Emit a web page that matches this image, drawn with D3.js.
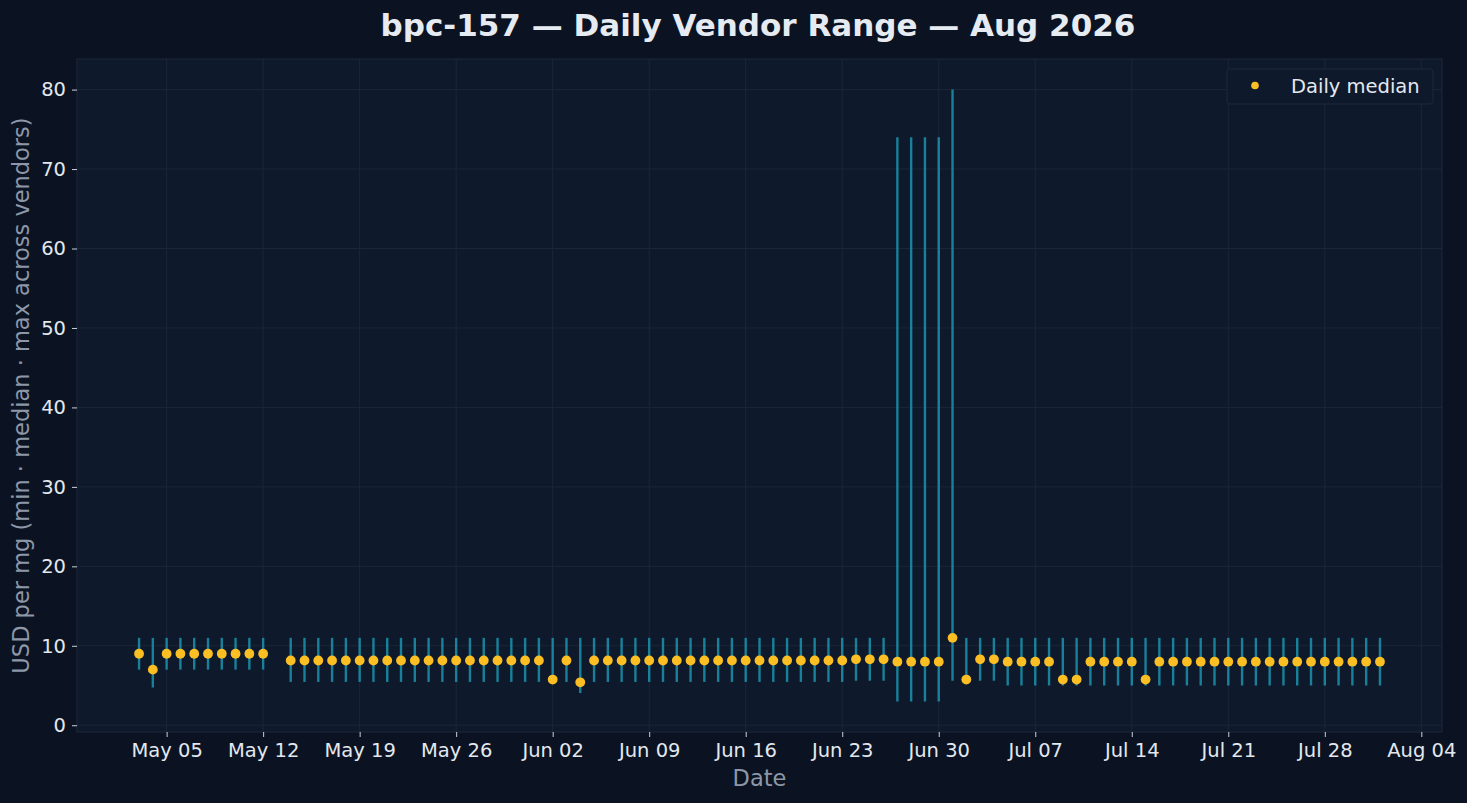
<!DOCTYPE html>
<html>
<head>
<meta charset="utf-8">
<script src="https://cdn.jsdelivr.net/npm/d3@7"></script>
<style>
  html, body { margin: 0; padding: 0; background: #0b1322; }
  svg { display: block; font-family: "DejaVu Sans", sans-serif; }
</style>
</head>
<body>
<div id="chart"></div>
<script>
(function() {
    var width = 1467;
    var height = 803;

    // Daily vendor range
    var dates = [
        "2026-05-03","2026-05-04","2026-05-05","2026-05-06","2026-05-07","2026-05-08","2026-05-09","2026-05-10","2026-05-11","2026-05-12",
        "2026-05-14","2026-05-15","2026-05-16","2026-05-17","2026-05-18","2026-05-19","2026-05-20","2026-05-21","2026-05-22","2026-05-23",
        "2026-05-24","2026-05-25","2026-05-26","2026-05-27","2026-05-28","2026-05-29","2026-05-30","2026-05-31",
        "2026-06-01","2026-06-02","2026-06-03","2026-06-04","2026-06-05","2026-06-06","2026-06-07","2026-06-08","2026-06-09","2026-06-10",
        "2026-06-11","2026-06-12","2026-06-13","2026-06-14","2026-06-15","2026-06-16","2026-06-17","2026-06-18","2026-06-19","2026-06-20",
        "2026-06-21","2026-06-22","2026-06-23","2026-06-24","2026-06-25","2026-06-26","2026-06-27","2026-06-28","2026-06-29","2026-06-30",
        "2026-07-01","2026-07-02","2026-07-03","2026-07-04","2026-07-05","2026-07-06","2026-07-07","2026-07-08","2026-07-09","2026-07-10",
        "2026-07-11","2026-07-12","2026-07-13","2026-07-14","2026-07-15","2026-07-16","2026-07-17","2026-07-18","2026-07-19","2026-07-20",
        "2026-07-21","2026-07-22","2026-07-23","2026-07-24","2026-07-25","2026-07-26","2026-07-27","2026-07-28","2026-07-29","2026-07-30",
        "2026-07-31","2026-08-01"
    ];
    var mins = [
        // May
        7, 4.75, 7, 7, 7, 7, 7, 7, 7, 7,
        5.45, 5.45, 5.45, 5.45, 5.45, 5.45, 5.45, 5.45, 5.45, 5.45, 5.45, 5.45, 5.45, 5.45, 5.45, 5.45, 5.45, 5.45,
        // Jun
        5.45, 5.45, 5.45, 4.05, 5.45, 5.45, 5.45, 5.45, 5.45, 5.45, 5.45, 5.45, 5.45, 5.45, 5.45, 5.45, 5.45, 5.45,
        5.45, 5.45, 5.45, 5.45, 5.45, 5.6, 5.6, 5.6, 3, 3, 3, 3,
        // Jul
        5.6, 5.6, 5.6, 5.6, 5, 5, 5, 5, 5, 5, 5, 5, 5, 5, 5, 5, 5, 5, 5, 5, 5, 5, 5, 5, 5, 5, 5, 5, 5, 5, 5,
        // Aug
        5
    ];
    var medians = [
        9, 7, 9, 9, 9, 9, 9, 9, 9, 9,
        8.15, 8.15, 8.15, 8.15, 8.15, 8.15, 8.15, 8.15, 8.15, 8.15, 8.15, 8.15, 8.15, 8.15, 8.15, 8.15, 8.15, 8.15,
        8.15, 5.75, 8.15, 5.4, 8.15, 8.15, 8.15, 8.15, 8.15, 8.15, 8.15, 8.15, 8.15, 8.15, 8.15, 8.15, 8.15, 8.15,
        8.15, 8.15, 8.15, 8.15, 8.15, 8.3, 8.3, 8.3, 8, 8, 8, 8,
        11, 5.75, 8.3, 8.3, 8, 8, 8, 8, 5.75, 5.75, 8, 8, 8, 8, 5.75, 8, 8, 8, 8, 8, 8, 8, 8, 8, 8, 8, 8, 8, 8, 8, 8,
        8
    ];
    var maxs = [
        11, 11, 11, 11, 11, 11, 11, 11, 11, 11,
        11, 11, 11, 11, 11, 11, 11, 11, 11, 11, 11, 11, 11, 11, 11, 11, 11, 11,
        11, 11, 11, 11, 11, 11, 11, 11, 11, 11, 11, 11, 11, 11, 11, 11, 11, 11,
        11, 11, 11, 11, 11, 11, 11, 11, 74, 74, 74, 74,
        80, 11, 11, 11, 11, 11, 11, 11, 11, 11, 11, 11, 11, 11, 11, 11, 11, 11, 11, 11, 11, 11, 11, 11, 11, 11, 11, 11, 11, 11, 11,
        11
    ];
    var xTickDates = ["2026-05-05","2026-05-12","2026-05-19","2026-05-26","2026-06-02","2026-06-09","2026-06-16",
                      "2026-06-23","2026-06-30","2026-07-07","2026-07-14","2026-07-21","2026-07-28","2026-08-04"];
    var yTicks = [0, 10, 20, 30, 40, 50, 60, 70, 80];

    var parse = d3.utcParse("%Y-%m-%d");
    var rows = dates.map(function(d, i) {
        return { date: parse(d), lo: mins[i], mid: medians[i], hi: maxs[i] };
    });

    var margin = { top: 59, right: 25, bottom: 71, left: 77 };
    var innerW = width - margin.left - margin.right;
    var innerH = height - margin.top - margin.bottom;

    // matplotlib-style 5% padding on both axes
    var xExt = d3.extent(rows, function(d) { return d.date; });
    var pad = (xExt[1] - xExt[0]) * 0.05;
    var x = d3.scaleUtc()
        .domain([new Date(+xExt[0] - pad), new Date(+xExt[1] + pad)])
        .range([0, innerW]);

    var yLo = d3.min(rows, function(d) { return d.lo; });
    var yHi = d3.max(rows, function(d) { return d.hi; });
    var yPad = (yHi - yLo) * 0.05;
    var y = d3.scaleLinear()
        .domain([yLo - yPad, yHi + yPad])
        .range([innerH, 0]);

    var svg = d3.select("#chart")
        .append("svg")
        .attr("width", width)
        .attr("height", height);

    svg.append("rect")
        .attr("width", width)
        .attr("height", height)
        .attr("fill", "#0b1322");

    var g = svg.append("g")
        .attr("transform", "translate(" + margin.left + "," + margin.top + ")");

    g.append("rect")
        .attr("width", innerW)
        .attr("height", innerH)
        .attr("fill", "#0f192c")
        .attr("stroke", "#1d283b")
        .attr("stroke-width", 1);

    // grid
    g.append("g").selectAll("line")
        .data(yTicks)
        .enter().append("line")
        .attr("x1", 0).attr("x2", innerW)
        .attr("y1", function(d) { return y(d); })
        .attr("y2", function(d) { return y(d); })
        .attr("stroke", "#1b2638")
        .attr("stroke-width", 1);

    g.append("g").selectAll("line")
        .data(xTickDates.map(parse))
        .enter().append("line")
        .attr("y1", 0).attr("y2", innerH)
        .attr("x1", function(d) { return x(d); })
        .attr("x2", function(d) { return x(d); })
        .attr("stroke", "#1b2638")
        .attr("stroke-width", 1);

    // axes
    var xAxis = d3.axisBottom(x)
        .tickValues(xTickDates.map(parse))
        .tickFormat(d3.utcFormat("%b %d"))
        .tickSize(5)
        .tickPadding(6);

    var yAxis = d3.axisLeft(y)
        .tickValues(yTicks)
        .tickSize(5)
        .tickPadding(6);

    var gx = g.append("g")
        .attr("transform", "translate(0," + innerH + ")")
        .call(xAxis);
    var gy = g.append("g").call(yAxis);

    [gx, gy].forEach(function(ax) {
        ax.select(".domain").remove();
        ax.selectAll(".tick line").attr("stroke", "#c9d1dc");
        ax.selectAll(".tick text")
            .attr("fill", "#e3e8ef")
            .style("font-size", "19.5px")
            .style("font-family", "DejaVu Sans, sans-serif");
    });

    // whiskers
    g.append("g").selectAll("line")
        .data(rows)
        .enter().append("line")
        .attr("x1", function(d) { return x(d.date); })
        .attr("x2", function(d) { return x(d.date); })
        .attr("y1", function(d) { return y(d.lo); })
        .attr("y2", function(d) { return y(d.hi); })
        .attr("stroke", "#1b93ad")
        .attr("stroke-opacity", 0.85)
        .attr("stroke-width", 2.4);

    // medians
    g.append("g").selectAll("circle")
        .data(rows)
        .enter().append("circle")
        .attr("cx", function(d) { return x(d.date); })
        .attr("cy", function(d) { return y(d.mid); })
        .attr("r", 4.9)
        .attr("fill", "#fbbf24");

    // legend
    var lg = svg.append("g")
        .attr("transform", "translate(1227,69)");
    lg.append("rect")
        .attr("width", 206)
        .attr("height", 35)
        .attr("rx", 3)
        .attr("fill", "#0f192c")
        .attr("stroke", "#1d283b");
    lg.append("circle")
        .attr("cx", 28).attr("cy", 16.5)
        .attr("r", 3.8)
        .attr("fill", "#fbbf24");
    lg.append("text")
        .attr("x", 64).attr("y", 23.5)
        .attr("fill", "#e3e8ef")
        .style("font-size", "19.5px")
        .text("Daily median");

    // title and labels
    svg.append("text")
        .attr("x", 758).attr("y", 36)
        .attr("text-anchor", "middle")
        .attr("fill", "#e6ebf2")
        .style("font-size", "31px")
        .style("font-weight", "bold")
        .text("bpc-157 \u2014 Daily Vendor Range \u2014 Aug 2026");

    svg.append("text")
        .attr("x", margin.left + innerW / 2).attr("y", 786)
        .attr("text-anchor", "middle")
        .attr("fill", "#8d97a7")
        .style("font-size", "22.5px")
        .text("Date");

    svg.append("text")
        .attr("transform", "translate(29," + (margin.top + innerH / 2) + ") rotate(-90)")
        .attr("text-anchor", "middle")
        .attr("fill", "#8d97a7")
        .style("font-size", "22.5px")
        .text("USD per mg (min \u00b7 median \u00b7 max across vendors)");
})();
</script>
</body>
</html>
